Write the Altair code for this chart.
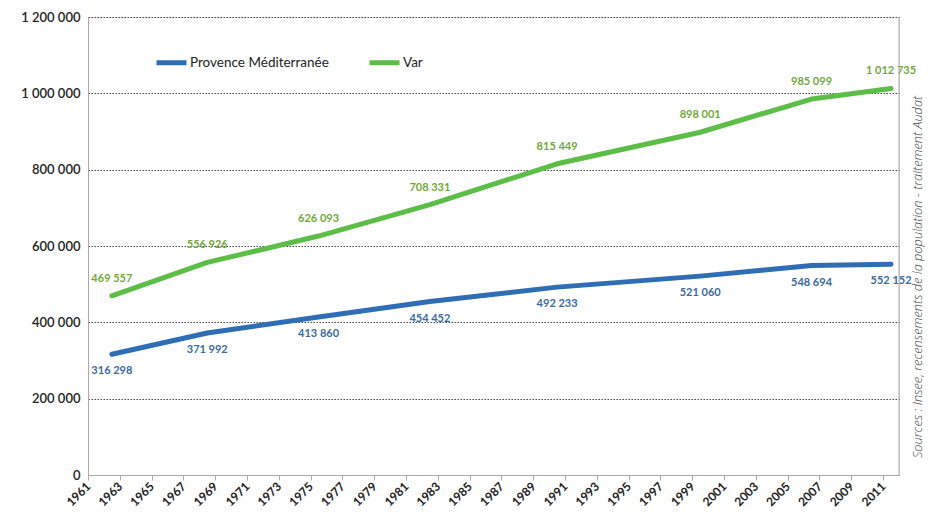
import altair as alt
import pandas as pd

years = [1962, 1968, 1975, 1982, 1990, 1999, 2006, 2011]
provence = [316298, 371992, 413860, 454452, 492233, 521060, 548694, 552152]
var = [469557, 556926, 626093, 708331, 815449, 898001, 985099, 1012735]
series_names = ["Provence Méditerranée", "Var"]
colors = ["#2f6db5", "#5cbd47"]
label_colors = ["#3a6aa0", "#72a83a"]
tick_years = list(range(1961, 2012, 2))
y_ticks = [0, 200000, 400000, 600000, 800000, 1000000, 1200000]
source_text = "Sources : Insee, recensements de la population - traitement Audat"

def fmt(v):
    return f"{v:,}".replace(",", " ")

rows = []
for name, vals in zip(series_names, [provence, var]):
    for yr, v in zip(years, vals):
        rows.append({"year": yr, "value": v, "serie": name, "label": fmt(v)})
df = pd.DataFrame(rows)

W, H = 811, 458
FONT = "Lato"

xscale = alt.Scale(domain=[1961, 2012], nice=False, zero=False)
xaxis = alt.Axis(values=tick_years, format="d", labelAngle=-45, labelAlign="right",
                 labelBaseline="middle", grid=False, labelOverlap=False,
                 labelSeparation=0, labelBound=False,
                 tickColor="#b0a8a8", domainColor="#b0a8a8", tickSize=5,
                 labelFontSize=12, labelColor="#222", labelFont=FONT,
                 labelFontWeight="bold", title=None, labelPadding=4)
yscale = alt.Scale(domain=[0, 1200000], nice=False)
yaxis = alt.Axis(values=y_ticks,
                 labelExpr="join(split(format(datum.value, ','), ','), ' ')",
                 grid=True, gridDash=[1.5, 1.5], gridColor="#444", gridWidth=1,
                 ticks=False, domainColor="#b0a8a8", labelFontSize=13,
                 labelColor="#222", labelFont=FONT, labelFontWeight=600,
                 labelPadding=8, title=None)
x = alt.X("pos:Q", scale=xscale, axis=xaxis)
y = alt.Y("value:Q", scale=yscale, axis=yaxis)

base = alt.Chart(df).transform_calculate(pos="datum.year + 0.5")

lines = base.mark_line(strokeWidth=5, strokeCap="round", strokeJoin="round").encode(
    x=x, y=y,
    color=alt.Color("serie:N", scale=alt.Scale(domain=series_names, range=colors),
                    legend=alt.Legend(orient="none", legendX=66, legendY=28, direction="horizontal",
                                      title=None, symbolType="stroke", symbolStrokeWidth=5,
                                      symbolSize=900, labelFontSize=13.5, labelFont=FONT,
                                      labelColor="#222", columnPadding=30, labelOffset=1,
                                      symbolOffset=0)))

lab_var = base.transform_filter(alt.datum.serie == "Var").mark_text(
    dy=-17, fontSize=11, fontWeight="bold", font=FONT, color=label_colors[1]).encode(
    x=x, y=y, text="label:N")
lab_prov = base.transform_filter(alt.datum.serie == "Provence Méditerranée").mark_text(
    dy=17, fontSize=11, fontWeight="bold", font=FONT, color=label_colors[0]).encode(
    x=x, y=y, text="label:N")

right_rule = alt.Chart(pd.DataFrame({"pos": [2012]})).mark_rule(color="#b0a8a8", strokeWidth=1).encode(
    x=x)

src = alt.Chart(pd.DataFrame({"t": [source_text]})).mark_text(
    angle=270, fontSize=12.8, fontStyle="italic", font="Open Sans", fontWeight=300,
    color="#444", align="center", baseline="middle").encode(
    text="t:N", x=alt.value(W + 19), y=alt.value(260))

chart = alt.layer(lines, lab_var, lab_prov, right_rule, src).properties(
    width=W, height=H,
    autosize=alt.AutoSizeParams(type="none"),
    padding={"left": 80, "top": 9, "right": 27, "bottom": 40},
).configure_view(stroke=None).configure(background="white")

chart.save("out.html", embed_options={"renderer": "svg", "actions": False})
